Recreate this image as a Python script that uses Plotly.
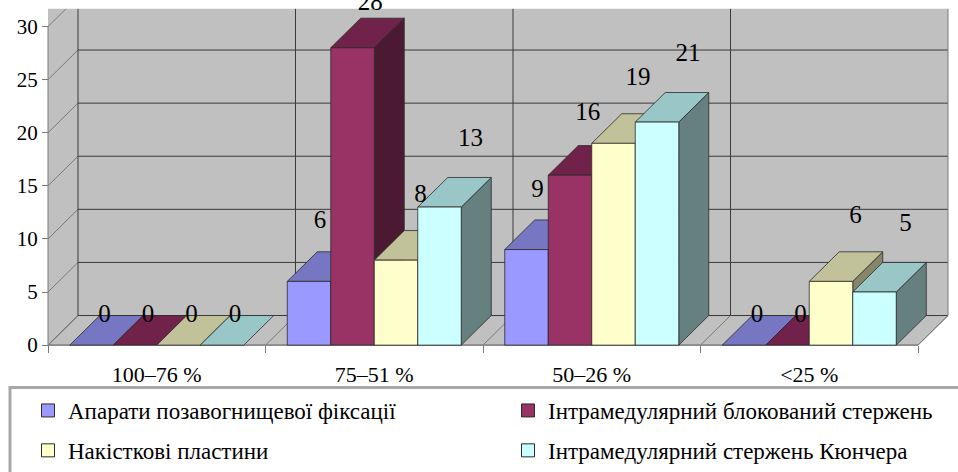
import plotly.graph_objects as go

# ---- data -------------------------------------------------------------
categories = ["100–76 %", "75–51 %", "50–26 %", "<25 %"]
series_names = [
    "Апарати позавогнищевої фіксації",
    "Інтрамедулярний блокований стержень",
    "Накісткові пластини",
    "Інтрамедулярний стержень Кюнчера",
]
apparatus = [0, 6, 9, 0]
locked_nail = [0, 28, 16, 0]
plates = [0, 8, 19, 6]
kuntscher = [0, 13, 21, 5]
y_ticks = [0, 5, 10, 15, 20, 25, 30]

series_values = [apparatus, locked_nail, plates, kuntscher]

# ---- colours (front / top / side faces of the 3-D columns) ------------
front_colors = ["#9999FF", "#993366", "#FFFFCC", "#CCFFFF"]
top_colors = ["#7676C2", "#70224A", "#C2C29A", "#99C6C6"]
side_colors = ["#4D4D80", "#4C1932", "#86866A", "#668080"]
WALL = "#C0C0C0"
GRID = "#3A3A3A"
EDGE = "#7A7A7A"
BAR_EDGE = "#2A2A2A"
FONT = "Liberation Serif, Tinos, Times New Roman, DejaVu Serif, serif"

# ---- geometry ---------------------------------------------------------
W, H = 958, 472
PAD = 8                       # px of plot area kept left of / below the origin
TOP_BAND = 9                  # white strip above the walls
ML, MT = 40, 0
MB = 114
plot_w = W - ML
plot_h = H - MT - MB
PX_CAT = 217.5                # px per category slot
PX_UNIT = 10.77               # px per value unit
DEPTH = 30                    # oblique depth in px (45 degrees)
dxu = DEPTH / PX_CAT
dyu = DEPTH / PX_UNIT
GROUP_PAD = 0.1
BAR_W = 0.2
n_cat = len(categories)
y_top_tick = y_ticks[-1]

x_range = [-PAD / PX_CAT, (plot_w - PAD) / PX_CAT]
y_range = [-PAD / PX_UNIT, (plot_h - PAD) / PX_UNIT]

fig = go.Figure()

# ---- walls, floor and grid (shapes in data coordinates) ---------------
shapes = []
def poly(xs, ys, fill, line_color, width=1):
    path = "M " + " L ".join(f"{x},{y}" for x, y in zip(xs, ys)) + " Z"
    shapes.append(dict(type="path", path=path, xref="x", yref="y",
                       fillcolor=fill, line=dict(color=line_color, width=width),
                       layer="below"))

def seg(x0, y0, x1, y1, color, width=1):
    shapes.append(dict(type="line", x0=x0, y0=y0, x1=x1, y1=y1, xref="x", yref="y",
                       line=dict(color=color, width=width), layer="below"))

wall_top = y_range[1] + 5
# left side wall
poly([0, dxu, dxu, 0], [0, dyu, wall_top, wall_top], WALL, "rgba(0,0,0,0)", 0)
# back wall
poly([dxu, n_cat + dxu, n_cat + dxu, dxu], [dyu, dyu, wall_top, wall_top], WALL, "rgba(0,0,0,0)", 0)
# floor
poly([0, n_cat, n_cat + dxu, dxu], [0, 0, dyu, dyu], WALL, EDGE, 1)

for v in y_ticks:
    seg(0, v, dxu, v + dyu, EDGE)                       # side wall diagonals
    seg(dxu, v + dyu, n_cat + dxu, v + dyu, GRID)       # back wall gridlines
for i in range(n_cat + 1):
    seg(i, 0, i + dxu, dyu, EDGE)                       # floor diagonals
    seg(i + dxu, dyu, i + dxu, wall_top, GRID if i < n_cat else EDGE)
seg(0, 0, 0, y_top_tick, EDGE)                          # front value axis
seg(0, 0, n_cat, 0, EDGE)                               # front floor edge

# white strip that trims the tops of the walls
band_bottom = (plot_h - PAD - TOP_BAND) / PX_UNIT
poly([x_range[0] - 1, x_range[1] + 1, x_range[1] + 1, x_range[0] - 1],
     [band_bottom, band_bottom, wall_top, wall_top], "white", "rgba(0,0,0,0)", 0)

# ---- 3-D columns built from the values --------------------------------
def faces(vals, s):
    fx, fy, tx, ty, sx, sy = [], [], [], [], [], []
    for c, v in enumerate(vals):
        x0 = c + GROUP_PAD + s * BAR_W
        x1 = x0 + BAR_W
        tx += [x0, x1, x1 + dxu, x0 + dxu, x0, None]
        ty += [v, v, v + dyu, v + dyu, v, None]
        if v > 0:
            fx += [x0, x1, x1, x0, x0, None]
            fy += [0, 0, v, v, 0, None]
            sx += [x1, x1 + dxu, x1 + dxu, x1, x1, None]
            sy += [0, dyu, v + dyu, v, 0, None]
    return (fx, fy), (tx, ty), (sx, sy)

all_faces = [faces(vals, s) for s, vals in enumerate(series_values)]

def face_trace(xy, color):
    return go.Scatter(x=xy[0], y=xy[1], mode="lines", fill="toself",
                      fillcolor=color, line=dict(color=BAR_EDGE, width=0.8),
                      hoverinfo="skip", showlegend=False)

for s in range(len(series_values)):
    fig.add_trace(face_trace(all_faces[s][2], side_colors[s]))
for s in range(len(series_values)):
    fig.add_trace(face_trace(all_faces[s][1], top_colors[s]))
for s in range(len(series_values)):
    fig.add_trace(face_trace(all_faces[s][0], front_colors[s]))

# ---- value labels (placed in front of each column's back top edge) ----
LABEL_DX_PX = 11          # horizontal shift of the first series' label
LABEL_DX_STEP_PX = 6.7    # extra shift per following series
LABEL_DX_ZERO_PX = 13
LABEL_RISE_PX = 30
LABEL_RISE_STEP_PX = 2.7
LABEL_CEIL = 32.1
lx, ly, lt = [], [], []
for s, vals in enumerate(series_values):
    for c, v in enumerate(vals):
        xc = c + GROUP_PAD + s * BAR_W + BAR_W / 2
        if v > 0:
            lx.append(xc + (LABEL_DX_PX + LABEL_DX_STEP_PX * s) / PX_CAT)
            rise = (LABEL_RISE_PX + LABEL_RISE_STEP_PX * s) / PX_UNIT
            ly.append(min(v + dyu + rise, LABEL_CEIL))
        else:
            lx.append(xc + LABEL_DX_ZERO_PX / PX_CAT)
            ly.append(v + dyu)
        lt.append(str(v))
fig.add_trace(go.Scatter(x=lx, y=ly, text=lt, mode="text", textposition="middle center",
                         textfont=dict(family=FONT, size=25, color="black"),
                         cliponaxis=False, hoverinfo="skip", showlegend=False))

# ---- legend entries -----------------------------------------------------
legend_ids = ["legend", "legend2", "legend", "legend2"]
for s, name in enumerate(series_names):
    fig.add_trace(go.Scatter(x=[None], y=[None], mode="markers", name=name,
                             legend=legend_ids[s], legendgroup=name,
                             marker=dict(symbol="square", size=13, color=front_colors[s],
                                         line=dict(color=BAR_EDGE, width=1))))

def px_x(p):
    return (p - ML) / plot_w

def px_y(p):
    return (H - MB - p) / plot_h

# legend frame
shapes.append(dict(type="rect", xref="paper", yref="paper",
                   x0=px_x(10), x1=px_x(975), y0=px_y(393), y1=px_y(490),
                   line=dict(color="#A8A8A8", width=3), fillcolor="white", layer="below"))

legend_style = dict(xanchor="left", yanchor="top", orientation="v",
                    font=dict(family=FONT, size=23, color="black"),
                    bgcolor="rgba(0,0,0,0)", borderwidth=0, tracegroupgap=7,
                    itemsizing="trace")

fig.update_layout(
    width=W, height=H,
    margin=dict(l=ML, r=0, t=MT, b=MB, pad=0),
    paper_bgcolor="white", plot_bgcolor="white",
    shapes=shapes,
    showlegend=True,
    legend=dict(x=px_x(28), y=px_y(395), **legend_style),
    legend2=dict(x=px_x(508), y=px_y(395), **legend_style),
    xaxis=dict(range=x_range, anchor="free", position=PAD / plot_h,
               showgrid=False, zeroline=False, showline=False,
               tickmode="array", tickvals=[c + 0.5 for c in range(n_cat)],
               ticktext=categories, ticks="", ticklabelstandoff=14,
               tickfont=dict(family=FONT, size=22, color="black"),
               minor=dict(tickmode="array", tickvals=list(range(n_cat + 1)),
                          ticks="outside", ticklen=7, tickcolor=EDGE, tickwidth=1,
                          showgrid=False)),
    yaxis=dict(range=y_range, anchor="free", position=PAD / plot_w,
               showgrid=False, zeroline=False, showline=False,
               tickmode="array", tickvals=y_ticks, ticks="outside", ticklen=6,
               tickcolor=EDGE, tickwidth=1,
               tickfont=dict(family=FONT, size=21, color="black")),
)

fig.write_html("out.html")
